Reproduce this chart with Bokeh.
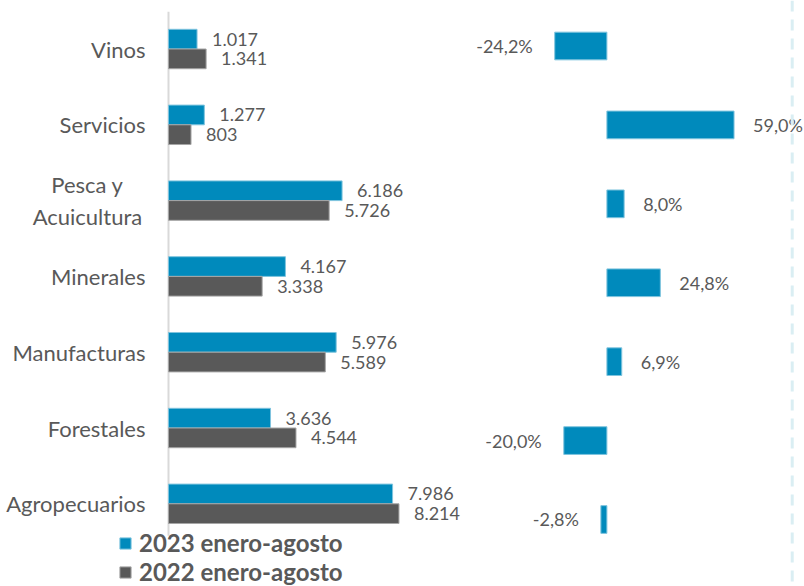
from bokeh.plotting import figure
from bokeh.models import ColumnDataSource, Range1d, Span, Legend, LegendItem
from bokeh.transform import dodge
from bokeh.core.properties import value
from bokeh.embed import file_html
from bokeh.resources import INLINE

# ---- data (top to bottom as displayed) ----
categories = ["Vinos", "Servicios", "Pesca y\nAcuicultura", "Minerales",
              "Manufacturas", "Forestales", "Agropecuarios"]
exports_2023 = [1017, 1277, 6186, 4167, 5976, 3636, 7986]
exports_2022 = [1341, 803, 5726, 3338, 5589, 4544, 8214]
change_pct = [-24.2, 59.0, 8.0, 24.8, 6.9, -20.0, -2.8]
series_labels = ["2023 enero-agosto", "2022 enero-agosto"]

BLUE = "#008ABC"
GREY = "#595959"
TEXT = "#595959"
FONT = "Lato"
CAT_SIZE = 22
CAT_GAP = 23

n = len(categories)
pos = [n - 1 - i for i in range(n)]


def fmt_thousands(v):
    return f"{v:,}".replace(",", ".")


def fmt_pct(v):
    return f"{v:.1f}".replace(".", ",") + "%"


def cat_layout(c):
    lines = c.split("\n")
    if len(lines) == 1:
        return "right", -CAT_GAP
    est_w = max(len(s) for s in lines) * 0.48 * CAT_SIZE
    return "center", -(CAT_GAP + est_w / 2)


src = ColumnDataSource(dict(
    pos=pos,
    cat=categories,
    cat_align=[cat_layout(c)[0] for c in categories],
    cat_xoff=[cat_layout(c)[1] for c in categories],
    zero=[0] * n,
    v23=exports_2023,
    v22=exports_2022,
    l23=[fmt_thousands(v) for v in exports_2023],
    l22=[fmt_thousands(v) for v in exports_2022],
    pct=change_pct,
    lpct=[fmt_pct(v) for v in change_pct],
    align=["left" if v >= 0 else "right" for v in change_pct],
    xoff=[19 if v >= 0 else -22 for v in change_pct],
))

p = figure(width=804, height=586, output_backend="svg", toolbar_location=None,
           x_range=Range1d(-5987, 22666), y_range=Range1d(-1.091, 6.640),
           x_axis_location=None, y_axis_location=None,
           min_border_left=0, min_border_right=0, min_border_top=0, min_border_bottom=0)
p.extra_x_ranges = {"pct": Range1d(-281.4, 91.7)}
p.extra_y_ranges = {"pct_y": Range1d(-0.849, 6.5765)}
p.outline_line_color = None
p.xgrid.visible = False
p.ygrid.visible = False
p.background_fill_color = "white"

# category axis baseline and labels
p.segment(x0=0, x1=0, y0=min(pos) - 0.42, y1=max(pos) + 0.49,
          line_color="#D9D9D9", line_width=2)
p.text(x="zero", y="pos", text="cat", source=src, x_offset="cat_xoff",
       text_align="cat_align", text_baseline="middle",
       text_font=value(FONT), text_font_size=f"{CAT_SIZE}px", text_color=TEXT)

bh = 0.26
r23 = p.hbar(y=dodge("pos", bh / 2, range=p.y_range), left=0, right="v23", height=bh,
             source=src, fill_color=BLUE, line_color="#7FC4DE", line_width=1)
r22 = p.hbar(y=dodge("pos", -bh / 2, range=p.y_range), left=0, right="v22", height=bh,
             source=src, fill_color=GREY, line_color="#A6A6A6", line_width=1)

p.text(x="v23", y=dodge("pos", bh / 2, range=p.y_range), text="l23", source=src,
       x_offset=15, text_baseline="middle", text_align="left",
       text_font=value(FONT), text_font_size="18px", text_color=TEXT)
p.text(x="v22", y=dodge("pos", -bh / 2, range=p.y_range), text="l22", source=src,
       x_offset=15, text_baseline="middle", text_align="left",
       text_font=value(FONT), text_font_size="18px", text_color=TEXT)

# percent change panel
p.hbar(y="pos", left=0, right="pct", height=0.351, source=src,
       x_range_name="pct", y_range_name="pct_y",
       fill_color=BLUE, line_color="#7FC4DE", line_width=1)
p.text(x="pct", y="pos", text="lpct", source=src, x_range_name="pct", y_range_name="pct_y",
       x_offset="xoff", text_align="align", text_baseline="middle",
       text_font=value(FONT), text_font_size="18px", text_color=TEXT)

p.add_layout(Span(location=86.0, dimension="height", x_range_name="pct",
                  line_color="#DAEEF3", line_width=3, line_dash="11 8"))

legend = Legend(items=[LegendItem(label=series_labels[0], renderers=[r23]),
                       LegendItem(label=series_labels[1], renderers=[r22])],
                location=(118, 0), orientation="vertical",
                glyph_width=14, glyph_height=14, label_height=28,
                label_standoff=7, spacing=0, padding=0, margin=0,
                border_line_color=None, background_fill_alpha=0,
                label_text_font=FONT, label_text_font_style="bold",
                label_text_font_size="24px", label_text_color=TEXT)
p.add_layout(legend, "center")

open("out.html", "w").write(file_html(p, INLINE))
